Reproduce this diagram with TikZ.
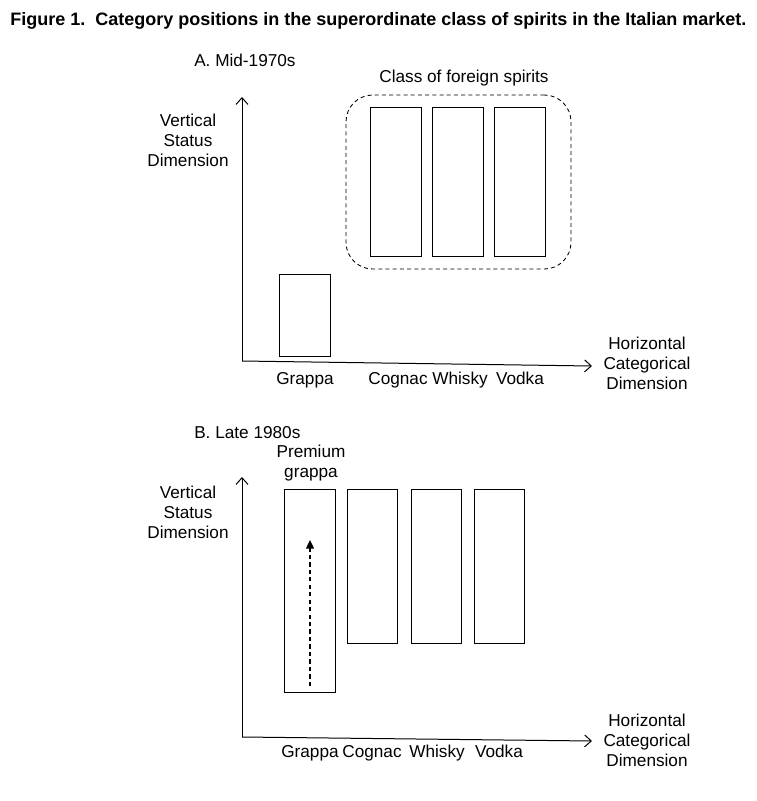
\documentclass[tikz,border=0pt]{standalone}
\usepackage{fontspec}
\setmainfont{Liberation Sans}
\usetikzlibrary{arrows.meta,fit}
\tikzset{
  box/.style={draw, line width=0.65pt, inner sep=0pt, rectangle},
  classbox/.style={draw, line width=0.65pt, inner sep=0pt, rounded corners=20pt, dash pattern=on 3pt off 2.4pt},
  axis/.style={line width=0.75pt, -{Straight Barb[length=5pt,width=9pt,line width=0.75pt]}},
  rise/.style={line width=1pt, dash pattern=on 3.2pt off 2.4pt, -{Triangle[length=6.5pt,width=6pt]}},
  lbl/.style={font=\fontsize{12.9pt}{15pt}\selectfont, align=center, inner sep=0pt},
  cat/.style={lbl, anchor=base},
  ttl/.style={font=\bfseries\fontsize{13.5pt}{15pt}\selectfont, inner sep=0pt, anchor=west}
}
\begin{document}
\begin{tikzpicture}[x=0.75pt,y=-0.75pt]
\useasboundingbox (0,0) rectangle (757,801);
\node[ttl] (title) at (10,21) {Figure 1.\ \ Category positions in the superordinate class of spirits in the Italian market.};
% Panel A
\node[lbl, anchor=west] (pA) at (194,60) {A. Mid-1970s};
\coordinate (oA) at (242,361);
\coordinate (yA) at (242,97);
\coordinate (xA) at (592,366);
\draw[axis] (oA) -- (yA);
\draw[axis] (oA) -- (xA);
\node[lbl] (vA) at (188,140) {Vertical\\Status\\Dimension};
\node[lbl] (hA) at (647,363) {Horizontal\\Categorical\\Dimension};
\node[classbox, fit={(346,95) (571,269)}] (clsA) {};
\node[lbl] (clsAl) at (464,78) {Class of foreign spirits};
\node[box, fit={(279,274) (330,356)}] (grA) {};
\node[box, fit={(370,107) (421,256)}] (coA) {};
\node[box, fit={(432,107) (483,256)}] (whA) {};
\node[box, fit={(494,107) (545,256)}] (voA) {};
\node[cat] (grAl) at (305,384) {Grappa};
\node[cat] (coAl) at (398,384) {Cognac};
\node[cat] (whAl) at (460,384) {Whisky};
\node[cat] (voAl) at (520,384) {Vodka};
% Panel B
\node[lbl, anchor=west] (pB) at (194,433) {B. Late 1980s};
\coordinate (oB) at (242,737);
\coordinate (yB) at (242,477);
\coordinate (xB) at (592,741);
\draw[axis] (oB) -- (yB);
\draw[axis] (oB) -- (xB);
\node[lbl] (vB) at (188,512) {Vertical\\Status\\Dimension};
\node[lbl] (hB) at (647,740) {Horizontal\\Categorical\\Dimension};
\node[lbl] (prB) at (311,463) {Premium\\grappa};
\node[box, fit={(284,489) (335,692)}] (grB) {};
\node[box, fit={(347,489) (397,643)}] (coB) {};
\node[box, fit={(411,489) (461,643)}] (whB) {};
\node[box, fit={(474,489) (524,643)}] (voB) {};
\coordinate (riseS) at (310,686);
\coordinate (riseE) at (310,540);
\draw[rise] (riseS) -- (riseE);
\node[cat] (grBl) at (310,757) {Grappa};
\node[cat] (coBl) at (372,757) {Cognac};
\node[cat] (whBl) at (437,757) {Whisky};
\node[cat] (voBl) at (499,757) {Vodka};
\end{tikzpicture}
\end{document}
